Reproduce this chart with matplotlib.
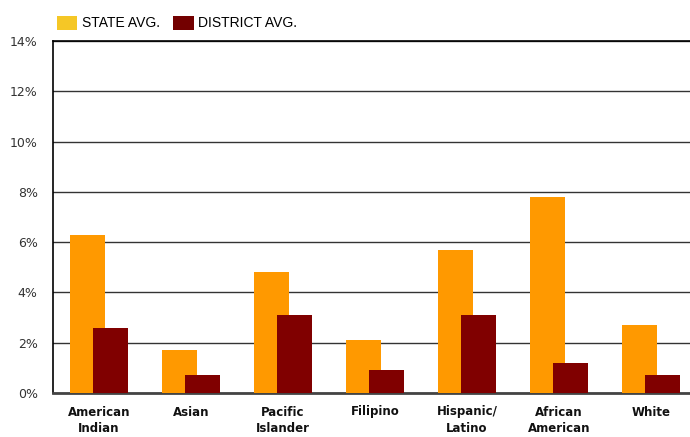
import matplotlib
matplotlib.use("Agg")
import matplotlib.pyplot as plt
from matplotlib.patches import Patch
import numpy as np

categories = ["American\nIndian", "Asian", "Pacific\nIslander", "Filipino",
              "Hispanic/\nLatino", "African\nAmerican", "White"]
state_avg = [6.3, 1.7, 4.8, 2.1, 5.7, 7.8, 2.7]
district_avg = [2.6, 0.7, 3.1, 0.9, 3.1, 1.2, 0.7]
series_labels = ["STATE AVG.", "DISTRICT AVG."]
yticks = [0, 2, 4, 6, 8, 10, 12, 14]
ytick_labels = ["0%", "2%", "4%", "6%", "8%", "10%", "12%", "14%"]

W, H = 690, 437
fig = plt.figure(figsize=(W / 100, H / 100), dpi=100)
left, right, top, bottom = 53, 697, 41, 393
ax = fig.add_axes([left / W, 1 - bottom / H, (right - left) / W, (bottom - top) / H])

x = np.arange(len(categories))
width = 0.38
off = 0.12
ax.bar(x - off, state_avg, width, color="#FF9900", zorder=3)
ax.bar(x + off, district_avg, width, color="#800000", zorder=4)

ax.set_xlim(-0.5, len(categories) - 0.5)
ax.set_ylim(0, 14)
ax.set_yticks(yticks)
ax.set_yticklabels(ytick_labels, fontsize=9, color="#333333", family="DejaVu Sans")
ax.set_xticks(x)
ax.set_xticklabels(categories, fontsize=8.5, fontweight="bold", color="#111111",
                   linespacing=1.4)
ax.tick_params(axis="both", length=0)
ax.tick_params(axis="x", pad=9)
ax.tick_params(axis="y", pad=11)

ax.yaxis.grid(True, color="#333333", linewidth=1.0, zorder=1)
ax.set_axisbelow(True)
ax.spines["right"].set_visible(False)
ax.spines["top"].set_color("black")
ax.spines["top"].set_linewidth(1.2)
ax.spines["left"].set_color("black")
ax.spines["left"].set_linewidth(1.2)
ax.spines["bottom"].set_color("#444444")
ax.spines["bottom"].set_linewidth(2)

handles = [Patch(facecolor="#F5C726"), Patch(facecolor="#730000")]
fig.legend(handles, series_labels, loc="upper left", ncol=2,
           bbox_to_anchor=(51 / W, 1 - 10 / H), frameon=False,
           prop={"family": "Liberation Sans", "size": 10},
           handlelength=1.5, handleheight=1.2, handletextpad=0.3,
           columnspacing=1.0, borderaxespad=0)

fig.savefig("out.png", dpi=100)
